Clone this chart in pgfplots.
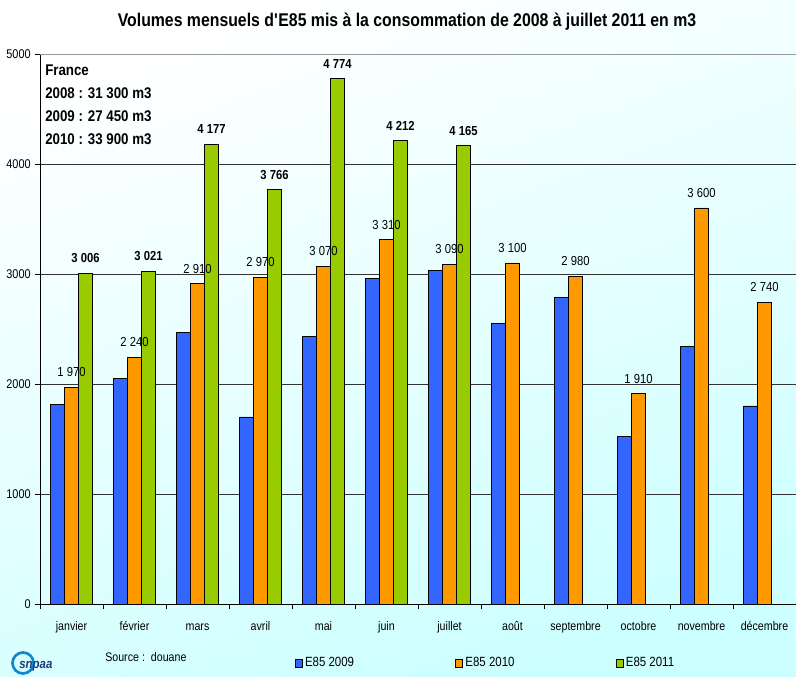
\documentclass[border=0pt]{standalone}
\usepackage{fontspec}
\setmainfont{Liberation Sans}[FakeStretch=0.86]
\usepackage{pgfplots}
\pgfplotsset{compat=1.18}
\definecolor{b09}{HTML}{3366FF}
\definecolor{o10}{HTML}{FF9900}
\definecolor{g11}{HTML}{99CC00}
\definecolor{bgcyan}{HTML}{CCFFFF}
\definecolor{logoblue}{HTML}{1E3C78}

% monthly volumes, m3 (0 = janvier ... 11 = decembre)
\pgfplotstableread{
x y
0 1810
1 2050
2 2470
3 1700
4 2430
5 2960
6 3030
7 2550
8 2790
9 1520
10 2340
11 1800
}\eightfivenine
\pgfplotstableread{
x y
0 1970
1 2240
2 2910
3 2970
4 3070
5 3310
6 3090
7 3100
8 2980
9 1910
10 3600
11 2740
}\eightfiveten
\pgfplotstableread{
x y
0 3006
1 3021
2 4177
3 3766
4 4774
5 4212
6 4165
}\eightfiveeleven

\begin{document}
\begin{tikzpicture}[x=0.75pt,y=0.75pt]
\shade[top color=white, bottom color=bgcyan, shading angle=20] (-40,-73) rectangle (756,604);

\begin{axis}[
  at={(0,0)}, anchor=south west, scale only axis,
  width=567pt, height=412.5pt,
  ybar=0pt, bar width=10.5pt,
  xmin=-0.5, xmax=11.5, ymin=0, ymax=5000,
  xtick={-0.5,0.5,...,11.5}, x tick label as interval,
  xticklabels={janvier,février,mars,avril,mai,juin,juillet,août,septembre,octobre,novembre,décembre},
  ytick={0,1000,...,4000},
  extra y ticks={5000}, extra y tick style={grid style={black!40, line width=0.6pt}},
  axis x line=bottom, axis y line=left,
  axis line style={-, black, line width=0.6pt},
  tick align=outside, major tick length=3.5pt,
  tick style={black, line width=0.6pt},
  ymajorgrids, grid style={black!80, line width=0.5pt},
  /pgf/number format/assume math mode=true,
  yticklabel style={/pgf/number format/1000 sep={}, font=\fontsize{9.5}{11}\selectfont},
  xticklabel style={font=\fontsize{9.3}{11}\selectfont, text height=7pt, text depth=2pt, yshift=-6pt},
  clip=false,
  every axis plot post/.append style={
    legend image code/.code={\draw[##1, draw=black, line width=0.5pt] (0pt,-3pt) rectangle (5pt,3pt);}},
  legend columns=3,
  legend style={draw=none, fill=none, at={(0.337,-0.107)}, anchor=west,
    font=\fontsize{10}{12}\selectfont, inner sep=0pt,
    /tikz/every even column/.append style={column sep=74pt}},
  nodes near coords={\pgfmathprintnumber[assume math mode=true,1000 sep={\ }]{\pgfplotspointmeta}},
]
\addplot[fill=b09, draw=black, line width=0.6pt, nodes near coords={}] table[x=x,y=y] {\eightfivenine};
\addplot[fill=o10, draw=black, line width=0.6pt,
  nodes near coords style={font=\fontsize{9.8}{11}\selectfont, yshift=4.3pt}] table[x=x,y=y] {\eightfiveten};
\addplot[fill=g11, draw=black, line width=0.6pt,
  nodes near coords style={font=\fontsize{9.8}{11}\selectfont\bfseries, yshift=4.3pt}] table[x=x,y=y] {\eightfiveeleven};
\legend{E85 2009, E85 2010, E85 2011}
\end{axis}

% title
\node[font=\fontsize{13.8}{16}\selectfont\bfseries] at (367,582)
  {Volumes mensuels d\textquotesingle E85 mis à la consommation de 2008 à juillet 2011 en m3};
% totals box
\node[anchor=north west, align=left, inner sep=0pt, font=\fontsize{11.6}{17.25}\selectfont\bfseries]
  at (5,539) {France\\2008 : 31 300 m3\\2009 : 27 450 m3\\2010 : 33 900 m3};
% source
\node[anchor=west, inner sep=0pt, font=\fontsize{9.3}{11}\selectfont] at (65,-53) {Source :\ \ douane};
% logo
\draw[color=cyan!70!blue, line width=2pt] (-17,-59) circle (10.5);
\node[anchor=west, inner sep=0pt, text=logoblue, font=\fontsize{10}{11}\selectfont\bfseries\itshape] at (-21,-62) {snpaa};

\pgfresetboundingbox
\useasboundingbox (-40,-73) rectangle (756,604);
\end{tikzpicture}
\end{document}
